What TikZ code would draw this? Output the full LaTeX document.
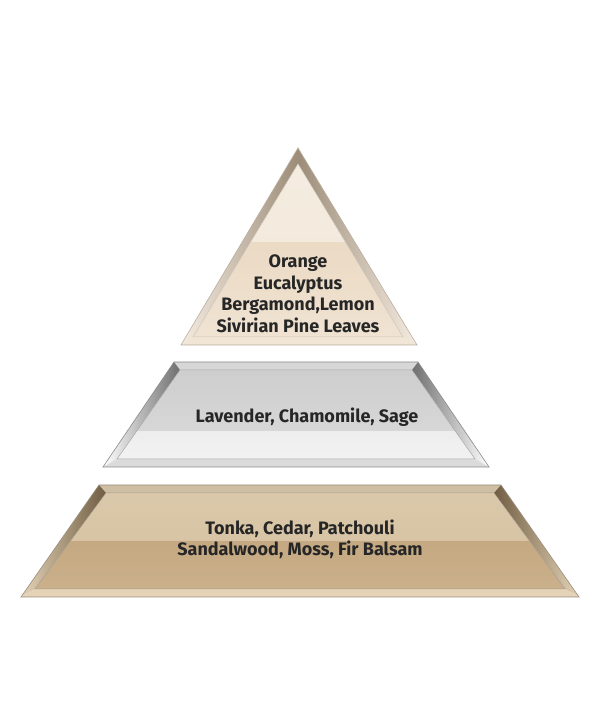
\documentclass[tikz,border=0pt]{standalone}
\usepackage{fontspec}
\setmainfont{Fira Sans}
\usetikzlibrary{positioning}

\definecolor{creamhi}{HTML}{F5ECE1}
\definecolor{creamlo}{HTML}{EBDAC4}
\definecolor{creamdk}{HTML}{9C8C78}
\definecolor{greyhi}{HTML}{CDCDCD}
\definecolor{greylo}{HTML}{F3F3F3}
\definecolor{greydk}{HTML}{6E6E6E}
\definecolor{tanhi}{HTML}{DBC9AB}
\definecolor{tanlo}{HTML}{C5A982}
\definecolor{tandk}{HTML}{6F5C42}
\definecolor{tanrim}{HTML}{E4D3B6}

\begin{document}
\begin{tikzpicture}[
  x=1pt, y=1pt,
  every node/.style={
    font=\bfseries\fontsize{18}{21.5}\selectfont,
    text=black!85,
    align=center,
    inner sep=0pt
  },
  rim/.style={line width=0.6pt},
  inline/.style={line width=0.5pt}
]

% page
\useasboundingbox (0,0) rectangle (600,726);
\fill[white] (0,0) rectangle (600,726);

% ---------- top: triangle ----------
\coordinate (ta) at (298,578);
\coordinate (tl) at (181,381);
\coordinate (tr) at (417,381);
\coordinate (ia) at (298,562);
\coordinate (il) at (193,389);
\coordinate (ir) at (403,389);

\shade[left color=creamhi, right color=creamdk] (tl) -- (ta) -- (ia) -- (il) -- cycle;
\shade[left color=creamdk, right color=creamhi] (ta) -- (tr) -- (ir) -- (ia) -- cycle;
\fill[creamlo!70!white] (tl) -- (tr) -- (ir) -- (il) -- cycle;
\begin{scope}
  \clip (ia) -- (ir) -- (il) -- cycle;
  \shade[top color=creamhi, bottom color=creamhi!85!creamlo] (190,483) rectangle (406,566);
  \shade[top color=creamlo, bottom color=creamlo!50!creamhi] (190,386) rectangle (406,483);
\end{scope}
\draw[rim, creamdk!70] (ta) -- (tr) -- (tl) -- cycle;
\draw[inline, creamdk!50] (ia) -- (ir) -- (il) -- cycle;

\node (top) at (298,432) {Orange\\Eucalyptus\\Bergamond,Lemon\\Sivirian Pine Leaves};

% ---------- middle: grey band ----------
\coordinate (mtl) at (174,364);
\coordinate (mtr) at (418,364);
\coordinate (mbl) at (103,259);
\coordinate (mbr) at (489,259);
\coordinate (ntl) at (180,356);
\coordinate (ntr) at (412,356);
\coordinate (nbl) at (117,267);
\coordinate (nbr) at (475,267);

\fill[greyhi!80!white] (mtl) -- (mtr) -- (ntr) -- (ntl) -- cycle;
\shade[left color=white, right color=greydk] (mbl) -- (mtl) -- (ntl) -- (nbl) -- cycle;
\shade[left color=greydk, right color=white] (mtr) -- (mbr) -- (nbr) -- (ntr) -- cycle;
\fill[greylo!90!black] (mbl) -- (mbr) -- (nbr) -- (nbl) -- cycle;
\begin{scope}
  \clip (ntl) -- (ntr) -- (nbr) -- (nbl) -- cycle;
  \shade[top color=greyhi, bottom color=greyhi!80!white] (110,294) rectangle (482,360);
  \shade[top color=greylo!85!greyhi, bottom color=greylo] (110,262) rectangle (482,294);
\end{scope}
\draw[rim, greydk!80] (mtl) -- (mtr) -- (mbr) -- (mbl) -- cycle;
\draw[inline, greydk!60] (ntl) -- (ntr) -- (nbr) -- (nbl) -- cycle;

\node (mid) at (307,309) {Lavender, Chamomile, Sage};

% ---------- bottom: tan band ----------
\coordinate (btl) at (99,241);
\coordinate (btr) at (501,241);
\coordinate (bbl) at (21,129);
\coordinate (bbr) at (579,129);
\coordinate (ctl) at (106,233);
\coordinate (ctr) at (494,233);
\coordinate (cbl) at (35,137);
\coordinate (cbr) at (565,137);

\fill[tanrim!90!black] (btl) -- (btr) -- (ctr) -- (ctl) -- cycle;
\shade[left color=tanrim, right color=tandk] (bbl) -- (btl) -- (ctl) -- (cbl) -- cycle;
\shade[left color=tandk, right color=tanrim] (btr) -- (bbr) -- (cbr) -- (ctr) -- cycle;
\fill[tanrim] (bbl) -- (bbr) -- (cbr) -- (cbl) -- cycle;
\begin{scope}
  \clip (ctl) -- (ctr) -- (cbr) -- (cbl) -- cycle;
  \shade[top color=tanhi, bottom color=tanhi!85!tanlo] (30,184) rectangle (570,238);
  \shade[top color=tanlo, bottom color=tanlo!75!tanhi] (30,132) rectangle (570,184);
\end{scope}
\draw[rim, tandk!70] (btl) -- (btr) -- (bbr) -- (bbl) -- cycle;
\draw[inline, tandk!60] (ctl) -- (ctr) -- (cbr) -- (cbl) -- cycle;

\node (base) at (300,186.5) {Tonka, Cedar, Patchouli\\Sandalwood, Moss, Fir Balsam};

\end{tikzpicture}
\end{document}
